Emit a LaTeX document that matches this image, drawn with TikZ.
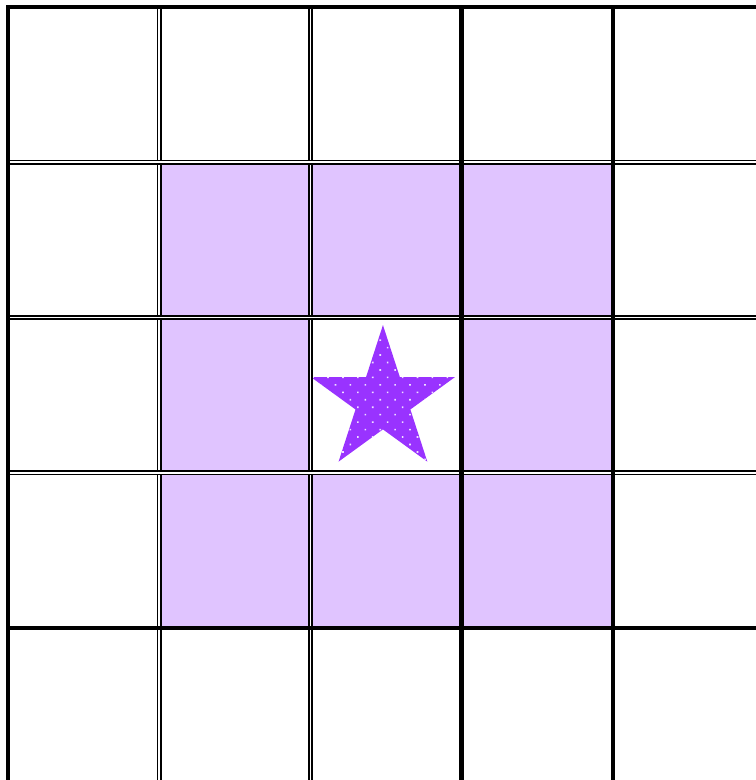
\documentclass[tikz,border=0pt]{standalone}
\usetikzlibrary{shapes.geometric,patterns.meta}
\definecolor{cellfill}{RGB}{224,196,255}
\definecolor{starfill}{RGB}{153,51,255}

\begin{document}
\begin{tikzpicture}[x=3.025cm,y=-3.105cm,
  thickline/.style={line width=2.6pt,line cap=rect},
  dblline/.style={double,line width=0.95pt,double distance=1pt},
  starmark/.style={star,star points=5,star point ratio=2.618,
    minimum size=3.02cm,inner sep=0pt,draw=none,
    preaction={fill=starfill},
    pattern={Dots[radius=0.65pt,distance=6pt,angle=45]},pattern color=white!85!starfill}]
\clip (-0.0529,-0.0451) rectangle (4.9455,4.9791);
\fill[white] (-0.0529,-0.0451) rectangle (4.9455,4.9791);

% shaded ring round the middle cell
\foreach \c/\r in {1/1,2/1,3/1,1/2,3/2,1/3,2/3,3/3}
  \fill[cellfill] (\c,\r) rectangle ++(1,1);

\node[starmark] (star) at (2.479,2.535) {};

% inner lines are double, outer ones thick
\foreach \x in {1,2} \draw[dblline] (\x,0) -- (\x,5.2);
\foreach \y in {1,2,3} \draw[dblline] (0,\y) -- (5.2,\y);
\foreach \x in {0,3,4} \draw[thickline] (\x,0) -- (\x,5.2);
\foreach \y in {0,4} \draw[thickline] (0,\y) -- (5.2,\y);
\end{tikzpicture}
\end{document}
